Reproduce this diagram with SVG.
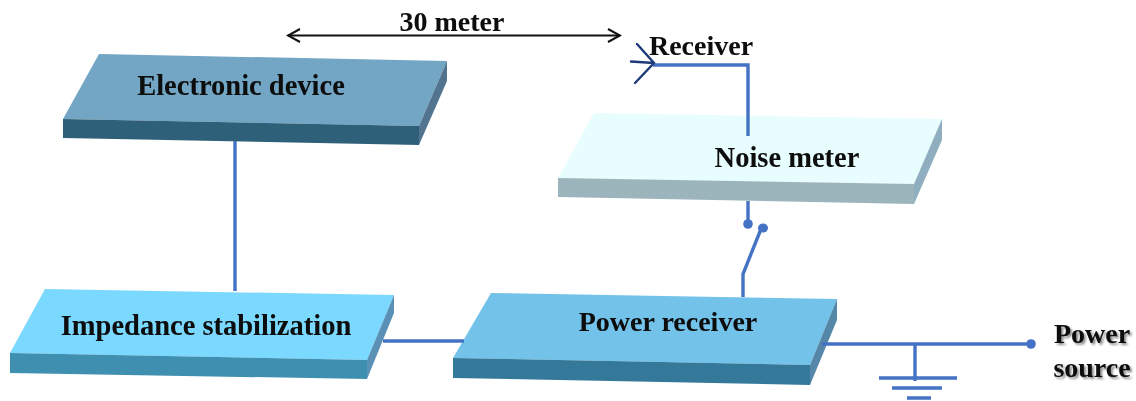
<svg xmlns="http://www.w3.org/2000/svg" width="1136" height="401" viewBox="0 0 1136 401">
<style>
text{font-family:"Liberation Serif","Times New Roman",serif;font-weight:bold;font-size:28px;fill:#0a0a0a;text-anchor:middle}
.big{font-size:28.500px}
.w{fill:none;stroke:#4472c4;stroke-width:3.4}
.g{fill:none;stroke:#4472c4;stroke-width:3.4}
.a{fill:none;stroke:#1f3a7a;stroke-width:2.4;stroke-linecap:round}
.d{fill:#4472c4}
</style>
<defs>
<marker id="ah" markerWidth="16" markerHeight="16" refX="14" refY="8" orient="auto-start-reverse" markerUnits="userSpaceOnUse"><path d="M2 1.500L14 8L2 14.500" fill="none" stroke="#111" stroke-width="2"/></marker>
<filter id="soft" x="-5%" y="-20%" width="110%" height="140%"><feGaussianBlur stdDeviation="0.35"/></filter>
<filter id="sh" x="-10%" y="-20%" width="125%" height="150%"><feGaussianBlur stdDeviation="0.35" result="t"/><feOffset in="SourceAlpha" dx="1.500" dy="1.500"/><feGaussianBlur stdDeviation="1.200"/><feComponentTransfer><feFuncA type="linear" slope="0.45"/></feComponentTransfer><feMerge><feMergeNode/><feMergeNode in="t"/></feMerge></filter>
</defs>
<g id="electronic-device">
<path fill="#73a6c4" d="M99 54L447 61L419 126L63 119Z"/>
<path fill="#2f6079" d="M63 119L419 126V145L63 138Z"/>
<path fill="#52748f" d="M447 61V81L419 145V126Z"/>
<text class="big" x="241" y="95" filter="url(#soft)">Electronic device</text>
</g>
<g id="impedance-stabilization">
<path fill="#7bd8fe" d="M45 289L394 295L367 360L10 353Z"/>
<path fill="#3f8fb0" d="M10 353L367 360V379L10 373Z"/>
<path fill="#5a90b5" d="M394 295V313L367 379V360Z"/>
<text class="big" x="206" y="335" filter="url(#soft)">Impedance stabilization</text>
</g>
<g id="noise-meter">
<path fill="#e8fdfe" d="M594 113L942 119L914 184L558 178Z"/>
<path fill="#9cb5bc" d="M558 178L914 184V204L558 197Z"/>
<path fill="#8fafc0" d="M942 119V140L914 204V184Z"/>
<text class="big" x="787" y="167" filter="url(#soft)">Noise meter</text>
</g>
<g id="power-receiver">
<path fill="#73c2ea" d="M491 293L837 299L810 365L453 358Z"/>
<path fill="#34799a" d="M453 358L810 365V385L453 378Z"/>
<path fill="#5587a8" d="M837 299V320L810 385V365Z"/>
<text x="668" y="331" filter="url(#soft)">Power receiver</text>
</g>
<g id="connectors">
<path class="w" d="M235 141V291"/>
<path class="w" d="M383 341H464"/>
<path class="w" d="M748 136V65H653"/>
<path class="w" d="M748 201V224"/>
<circle class="d" cx="748" cy="224" r="4.800"/>
<path class="w" d="M743 297V274L761 229"/>
<ellipse class="d" cx="763" cy="228" rx="5" ry="4.500"/>
<path class="w" d="M822 344H1031"/>
<circle class="d" cx="1031" cy="344" r="4.800"/>
<path class="g" d="M915 344V381M879 378H957M892 388H942M907 398H931"/>
<path class="a" d="M637 44L654 63L635 83M631 61.500L654 63"/>
<path d="M288 35.500H620" fill="none" stroke="#111" stroke-width="2" marker-start="url(#ah)" marker-end="url(#ah)"/>
</g>
<g id="labels">
<text x="452" y="31" filter="url(#soft)">30 meter</text>
<text x="701" y="55" filter="url(#soft)">Receiver</text>
<text x="1092" y="343" filter="url(#sh)">Power</text>
<text x="1092" y="377" filter="url(#sh)">source</text>
</g>
</svg>
